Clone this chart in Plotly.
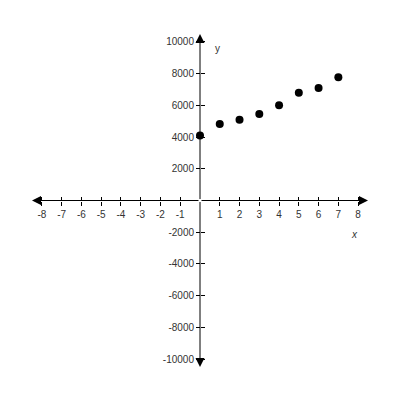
import plotly.graph_objects as go

# data points
x_vals = [0, 1, 2, 3, 4, 5, 6, 7]
y_vals = [4100, 4820, 5100, 5450, 6000, 6800, 7100, 7780]

x_ticks = [v for v in range(-8, 9) if v != 0]
y_ticks = [v for v in range(-10000, 10001, 2000) if v != 0]
x_labels = [str(v) for v in x_ticks]
y_labels = [str(v) for v in y_ticks]

x_range = [-8.5, 8.5]
y_range = [-10500, 10500]

font = dict(family="Liberation Sans, Arial, sans-serif", size=10, color="#333")

fig = go.Figure()
fig.add_trace(go.Scatter(x=x_vals, y=y_vals, mode="markers",
                         marker=dict(color="black", size=8), showlegend=False))

common = dict(showgrid=False, zeroline=False, showline=False, ticklen=4,
              tickcolor="black", tickwidth=1, anchor="free", position=0.5,
              automargin=False, ticks="outside")

# page body adds ~8px offset, so margins are shifted to keep the origin at (200, 199)
fig.update_layout(
    width=400, height=400,
    margin=dict(l=24, r=40, t=26, b=41, autoexpand=False),
    paper_bgcolor="white", plot_bgcolor="white",
    font=font,
    xaxis=dict(range=x_range, tickvals=x_ticks, ticktext=x_labels, **common),
    yaxis=dict(range=y_range, tickvals=y_ticks, ticktext=y_labels, **common),
    # second pair of axes so the ticks cross the axis lines
    xaxis2=dict(range=x_range, tickvals=x_ticks, side="top",
                overlaying="x", showticklabels=False, **common),
    yaxis2=dict(range=y_range, tickvals=y_ticks, side="right",
                overlaying="y", showticklabels=False, **common),
)
# invisible trace so the overlaid axes get drawn
fig.add_trace(go.Scatter(x=[None], y=[None], xaxis="x2", yaxis="y2",
                         showlegend=False, hoverinfo="skip"))

# axis lines with arrowheads
for tip, tail in [((x_range[1], 0), (0, 0)), ((x_range[0], 0), (0, 0)),
                  ((0, y_range[1]), (0, 0)), ((0, y_range[0]), (0, 0))]:
    fig.add_annotation(x=tip[0], y=tip[1], ax=tail[0], ay=tail[1],
                       xref="x", yref="y", axref="x", ayref="y", text="",
                       showarrow=True, arrowhead=2, arrowsize=1.8,
                       arrowwidth=1, arrowcolor="black")

fig.add_annotation(x=7.84, y=-2150, xref="x", yref="y", text="<i>x</i>",
                   showarrow=False, font=font)
fig.add_annotation(x=0.9, y=9600, xref="x", yref="y", text="y",
                   showarrow=False, font=font)

fig.write_html("out.html")
